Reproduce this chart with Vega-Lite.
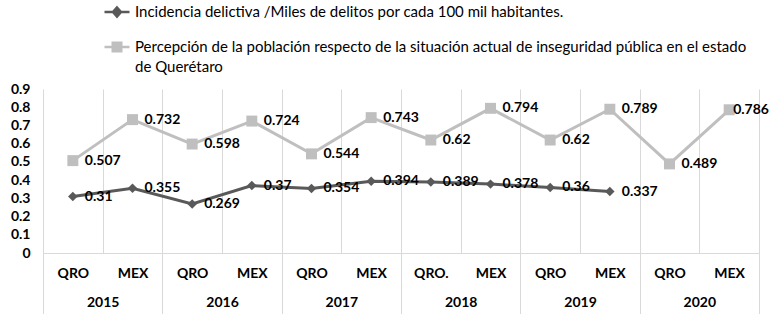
{
  "$schema": "https://vega.github.io/schema/vega-lite/v6.json",
  "width": 716,
  "height": 164,
  "autosize": "none",
  "padding": {"left": 43, "top": 89, "right": 16, "bottom": 61},
  "background": "white",
  "config": {"font": "Lato", "view": {"stroke": null}},
  "datasets": {
    "series": [
      {"cat": "2015 QRO", "serie": "Incidencia delictiva /Miles de delitos por cada 100 mil habitantes.", "valor": 0.31},
      {"cat": "2015 MEX", "serie": "Incidencia delictiva /Miles de delitos por cada 100 mil habitantes.", "valor": 0.355},
      {"cat": "2016 QRO", "serie": "Incidencia delictiva /Miles de delitos por cada 100 mil habitantes.", "valor": 0.269},
      {"cat": "2016 MEX", "serie": "Incidencia delictiva /Miles de delitos por cada 100 mil habitantes.", "valor": 0.37},
      {"cat": "2017 QRO", "serie": "Incidencia delictiva /Miles de delitos por cada 100 mil habitantes.", "valor": 0.354},
      {"cat": "2017 MEX", "serie": "Incidencia delictiva /Miles de delitos por cada 100 mil habitantes.", "valor": 0.394},
      {"cat": "2018 QRO.", "serie": "Incidencia delictiva /Miles de delitos por cada 100 mil habitantes.", "valor": 0.389},
      {"cat": "2018 MEX", "serie": "Incidencia delictiva /Miles de delitos por cada 100 mil habitantes.", "valor": 0.378},
      {"cat": "2019 QRO", "serie": "Incidencia delictiva /Miles de delitos por cada 100 mil habitantes.", "valor": 0.36},
      {"cat": "2019 MEX", "serie": "Incidencia delictiva /Miles de delitos por cada 100 mil habitantes.", "valor": 0.337},
      {"cat": "2015 QRO", "serie": "Percepción de la población respecto de la situación actual de inseguridad pública en el estado de Querétaro", "valor": 0.507},
      {"cat": "2015 MEX", "serie": "Percepción de la población respecto de la situación actual de inseguridad pública en el estado de Querétaro", "valor": 0.732},
      {"cat": "2016 QRO", "serie": "Percepción de la población respecto de la situación actual de inseguridad pública en el estado de Querétaro", "valor": 0.598},
      {"cat": "2016 MEX", "serie": "Percepción de la población respecto de la situación actual de inseguridad pública en el estado de Querétaro", "valor": 0.724},
      {"cat": "2017 QRO", "serie": "Percepción de la población respecto de la situación actual de inseguridad pública en el estado de Querétaro", "valor": 0.544},
      {"cat": "2017 MEX", "serie": "Percepción de la población respecto de la situación actual de inseguridad pública en el estado de Querétaro", "valor": 0.743},
      {"cat": "2018 QRO.", "serie": "Percepción de la población respecto de la situación actual de inseguridad pública en el estado de Querétaro", "valor": 0.62},
      {"cat": "2018 MEX", "serie": "Percepción de la población respecto de la situación actual de inseguridad pública en el estado de Querétaro", "valor": 0.794},
      {"cat": "2019 QRO", "serie": "Percepción de la población respecto de la situación actual de inseguridad pública en el estado de Querétaro", "valor": 0.62},
      {"cat": "2019 MEX", "serie": "Percepción de la población respecto de la situación actual de inseguridad pública en el estado de Querétaro", "valor": 0.789},
      {"cat": "2020 QRO", "serie": "Percepción de la población respecto de la situación actual de inseguridad pública en el estado de Querétaro", "valor": 0.489},
      {"cat": "2020 MEX", "serie": "Percepción de la población respecto de la situación actual de inseguridad pública en el estado de Querétaro", "valor": 0.786}
    ],
    "years": [
      {"year": "2015"}, {"year": "2016"}, {"year": "2017"}, {"year": "2018"}, {"year": "2019"}, {"year": "2020"}
    ]
  },
  "layer": [
    {
      "data": {"name": "series"},
      "encoding": {
        "x": {
          "field": "cat",
          "type": "ordinal",
          "scale": {"type": "band", "paddingInner": 0, "paddingOuter": 0,
            "domain": ["2015 QRO", "2015 MEX", "2016 QRO", "2016 MEX", "2017 QRO", "2017 MEX", "2018 QRO.", "2018 MEX", "2019 QRO", "2019 MEX", "2020 QRO", "2020 MEX"]},
          "axis": {
            "title": null,
            "labelExpr": "split(datum.value, ' ')[1]",
            "labelAngle": 0,
            "grid": true,
            "gridColor": "#d9d9d9",
            "gridWidth": 1,
            "tickBand": "extent",
            "ticks": false,
            "domainColor": "#d9d9d9",
            "domainWidth": 1,
            "labelPadding": 13,
            "labelFont": "Lato",
            "labelFontWeight": "bold",
            "labelFontSize": 14,
            "labelColor": "#000000"
          }
        },
        "y": {
          "field": "valor",
          "type": "quantitative",
          "scale": {"domain": [0, 0.9], "nice": false},
          "axis": {
            "title": null,
            "values": [0, 0.1, 0.2, 0.3, 0.4, 0.5, 0.6, 0.7, 0.8, 0.9],
            "format": ".1~f",
            "domain": false,
            "ticks": false,
            "grid": false,
            "labelPadding": 13,
            "labelFont": "Lato",
            "labelFontWeight": "bold",
            "labelFontSize": 14,
            "labelColor": "#000000"
          }
        },
        "color": {
          "field": "serie",
          "type": "nominal",
          "scale": {
            "domain": ["Incidencia delictiva /Miles de delitos por cada 100 mil habitantes.", "Percepción de la población respecto de la situación actual de inseguridad pública en el estado de Querétaro"],
            "range": ["#595959", "#bfbfbf"]
          },
          "legend": null
        }
      },
      "layer": [
        {
          "mark": {"type": "line", "strokeWidth": 3},
          "encoding": {
            "color": {
              "field": "serie",
              "type": "nominal",
              "legend": {
                "orient": "none",
                "legendX": 60,
                "legendY": -91,
                "title": null,
                "direction": "vertical",
                "padding": 0,
                "labelFont": "Lato",
                "labelFontSize": 15,
                "labelColor": "#000000",
                "labelLimit": 0,
                "labelOffset": 4,
                "rowPadding": 11,
                "symbolSize": 625,
                "symbolStrokeWidth": 2.5,
                "labelExpr": "indexof(datum.label, 'Percepción') == 0 ? ['Percepción de la población respecto de la situación actual de inseguridad pública en el estado', 'de Querétaro'] : datum.label",
                "encode": {
                  "labels": {
                    "update": {"lineHeight": {"value": 20}}
                  },
                  "symbols": {
                    "update": {
                      "shape": {"signal": "indexof(datum.value, 'Incidencia') == 0 ? 'M-1,0L1,0M0,-0.36L0.32,0L0,0.36L-0.32,0Z' : 'M-1,0L1,0M-0.34,-0.34L0.34,-0.34L0.34,0.34L-0.34,0.34Z'"},
                      "fill": {"signal": "indexof(datum.value, 'Incidencia') == 0 ? '#595959' : '#bfbfbf'"},
                      "stroke": {"signal": "indexof(datum.value, 'Incidencia') == 0 ? '#595959' : '#bfbfbf'"},
                      "opacity": {"value": 1}
                    }
                  }
                }
              }
            }
          }
        },
        {
          "mark": {"type": "point", "filled": true, "opacity": 1},
          "encoding": {
            "shape": {
              "field": "serie",
              "type": "nominal",
              "scale": {"range": ["diamond", "square"]},
              "legend": null
            },
            "size": {
              "field": "serie",
              "type": "nominal",
              "scale": {"range": [90, 120]},
              "legend": null
            }
          }
        },
        {
          "transform": [{"filter": "datum.cat != '2020 MEX'"}],
          "mark": {"type": "text", "align": "left", "baseline": "middle", "dx": 12, "fontWeight": "bold", "fontSize": 14, "font": "Lato", "color": "#000000"},
          "encoding": {
            "text": {"field": "valor", "type": "quantitative", "format": "~g"},
            "color": {"value": "#000000"}
          }
        },
        {
          "transform": [{"filter": "datum.cat == '2020 MEX'"}],
          "mark": {"type": "text", "align": "left", "baseline": "middle", "dx": 4, "fontWeight": "bold", "fontSize": 14, "font": "Lato", "color": "#000000"},
          "encoding": {
            "text": {"field": "valor", "type": "quantitative", "format": "~g"},
            "color": {"value": "#000000"}
          }
        }
      ]
    },
    {
      "data": {"name": "years"},
      "mark": {"type": "point", "opacity": 0},
      "encoding": {
        "x": {
          "field": "year",
          "type": "ordinal",
          "scale": {"type": "band", "paddingInner": 0, "paddingOuter": 0},
          "axis": {
            "orient": "bottom",
            "title": null,
            "labelAngle": 0,
            "grid": false,
            "domain": false,
            "tickBand": "extent",
            "ticks": true,
            "tickSize": 62,
            "tickColor": "#d9d9d9",
            "tickWidth": 1,
            "labelPadding": -20,
            "labelFont": "Lato",
            "labelFontWeight": "bold",
            "labelFontSize": 14,
            "labelColor": "#000000"
          }
        }
      }
    }
  ],
  "resolve": {"scale": {"x": "independent"}, "axis": {"x": "independent"}}
}
